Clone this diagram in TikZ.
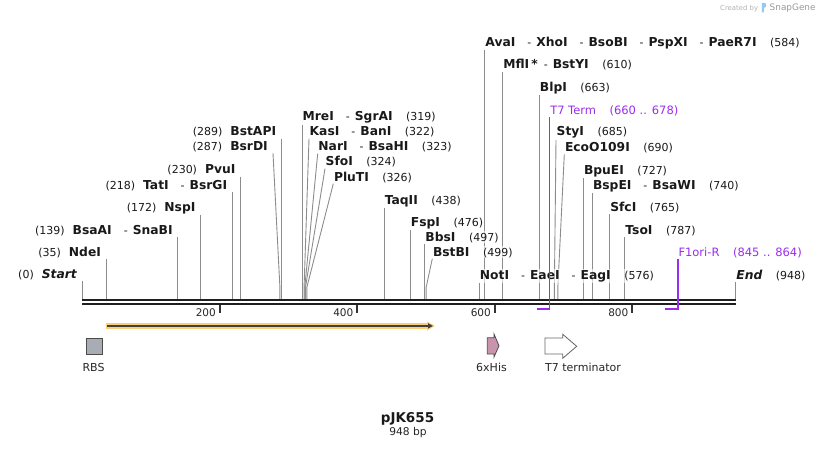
\documentclass[tikz,border=0pt]{standalone}
\usepackage{fontspec}
\setmainfont{DejaVu Sans}
\usetikzlibrary{arrows.meta,backgrounds}
\definecolor{cutgray}{RGB}{140,140,140}
\definecolor{featpurple}{RGB}{155,45,240}
\definecolor{cdsorange}{RGB}{253,205,120}
\definecolor{rbsgray}{RGB}{168,172,180}
\definecolor{hispink}{RGB}{201,147,174}
\definecolor{logoblue}{RGB}{150,200,240}
\newcommand{\enz}[1]{{\fontsize{12.3}{14}\selectfont\bfseries #1}}
\newcommand{\enzdash}{\hspace{12pt}-\hspace{5pt}}
\newcommand{\numgap}{\hspace{13.5pt}}
\newcommand{\lgap}{\hspace{8pt}}

\begin{document}
\begin{tikzpicture}[x=1pt,y=-1pt,
    declare function={px(\p)=82+0.6896*\p;},
    lbl/.style={font=\fontsize{11}{13}\selectfont, text=black!90, fill=white,
        fill opacity=0.6, text opacity=1, inner ysep=1pt},
    enzl/.style={lbl, anchor=base east, inner xsep=5pt},
    enzr/.style={lbl, anchor=base west, inner xsep=0.5pt},
    featl/.style={enzr, font=\fontsize{11.5}{13}\selectfont, text=featpurple},
    cutline/.style={cutgray, line width=0.9pt},
    featline/.style={featpurple, line width=1.5pt},
    seqline/.style={black!88, line width=2pt},
    seqtick/.style={black!80, line width=2pt},
    ticklbl/.style={font=\fontsize{10.5}{12}\selectfont, text=black!85, anchor=base east, inner sep=0pt},
    featlbl/.style={font=\fontsize{11}{13}\selectfont, text=black!85, anchor=base, inner sep=0pt},
    featbox/.style={draw=black!70, line width=0.8pt}]
\useasboundingbox (0,0) rectangle (818,449);

% watermark
\node[font=\fontsize{6.9}{8}\selectfont, text=black!30, anchor=base west, inner sep=0pt] (created) at (720,10.5) {Created by};
\fill[logoblue] (761.8,2.8) -- (764,2.8) .. controls (767,2.8) and (767,7.8) .. (764,7.8)
    -- (763.8,7.8) -- (763.8,12.3) -- (761.8,12.3) -- cycle;
\node[font=\fontsize{8.9}{10}\selectfont, text=black!40, anchor=base west, inner sep=0pt] (snapgene) at (769.5,11) {SnapGene};

% sequence
\draw[seqline] (82,300.3) -- (736,300.3);
\draw[seqline] (82,304.3) -- (736,304.3);
\foreach \t in {200,400,600,800} {
    \draw[seqtick] ({82+0.6875*\t},305) -- ++(0,8);
    \node[ticklbl] (tk\t) at ({82+0.6875*\t-3.5},316.5) {\t};
}
\foreach \s in {0,35,139,172,218,230,287,289,319,322,323,324,326,438,476,497,499,576,584,610,663,685,690,727,740,765,787,948}
    \coordinate (c\s) at ({px(\s)},299.5);

% sites, left side
\node[enzl] (start) at ({px(0)},278.3) {(0)\lgap\enz{\itshape Start}};
\node[enzl] (ndeI) at ({px(35)},256) {(35)\lgap\enz{NdeI}};
\node[enzl] (bsaAI) at ({px(139)},234) {(139)\lgap\enz{BsaAI}\enzdash\enz{SnaBI}};
\node[enzl] (nspI) at ({px(172)},211.7) {(172)\lgap\enz{NspI}};
\node[enzl] (tatI) at ({px(218)},189.3) {(218)\lgap\enz{TatI}\enzdash\enz{BsrGI}};
\node[enzl] (pvuI) at ({px(230)},174) {(230)\lgap\enz{PvuI}};
\node[enzl] (bsrDI) at (273,150.7) {(287)\lgap\enz{BsrDI}};
\node[enzl] (bstAPI) at ({px(289)},136) {(289)\lgap\enz{BstAPI}};

% sites, right side
\node[enzr] (mreI) at ({px(319)},120.7) {\enz{MreI}\enzdash\enz{SgrAI}\numgap(319)};
\node[enzr] (kasI) at (309,136) {\enz{KasI}\enzdash\enz{BanI}\numgap(322)};
\node[enzr] (narI) at (317.7,151) {\enz{NarI}\enzdash\enz{BsaHI}\numgap(323)};
\node[enzr] (sfoI) at (325,166) {\enz{SfoI}\numgap(324)};
\node[enzr] (pluTI) at (333.3,181) {\enz{PluTI}\numgap(326)};
\node[enzr] (taqII) at ({px(438)},204) {\enz{TaqII}\numgap(438)};
\node[enzr] (fspI) at ({px(476)},226.7) {\enz{FspI}\numgap(476)};
\node[enzr] (bbsI) at ({px(497)},241) {\enz{BbsI}\numgap(497)};
\node[enzr] (bstBI) at (432.3,256) {\enz{BstBI}\numgap(499)};
\node[enzr] (notI) at ({px(576)},279) {\enz{NotI}\enzdash\enz{EaeI}\enzdash\enz{EagI}\numgap(576)};
\node[enzr] (avaI) at ({px(584)},46.7) {\enz{AvaI}\enzdash\enz{XhoI}\enzdash\enz{BsoBI}\enzdash\enz{PspXI}\enzdash\enz{PaeR7I}\numgap(584)};
\node[enzr] (mflI) at ({px(610)},69) {\enz{MflI\,*}\hspace{6pt}-\hspace{5pt}\enz{BstYI}\numgap(610)};
\node[enzr] (blpI) at ({px(663)},91.7) {\enz{BlpI}\numgap(663)};
\node[featl] (t7term) at ({px(678)},114.3) {T7 Term\numgap(660 .. 678)};
\node[enzr] (styI) at (556,136) {\enz{StyI}\numgap(685)};
\node[enzr] (ecoO) at (564.3,151.7) {\enz{EcoO109I}\numgap(690)};
\node[enzr] (bpuEI) at ({px(727)},174.3) {\enz{BpuEI}\numgap(727)};
\node[enzr] (bspEI) at ({px(740)},189.3) {\enz{BspEI}\enzdash\enz{BsaWI}\numgap(740)};
\node[enzr] (sfcI) at ({px(765)},211.7) {\enz{SfcI}\numgap(765)};
\node[enzr] (tsoI) at ({px(787)},234.3) {\enz{TsoI}\numgap(787)};
\node[featl] (f1ori) at ({px(864)},256) {F1ori-R\numgap(845 .. 864)};
\node[enzr] (endlbl) at ({px(948)},279) {\enz{\itshape End}\numgap(948)};

\begin{scope}[on background layer]
\draw[cutline] (start.south east) -- (c0);
\draw[cutline] (ndeI.south east) -- (c35);
\draw[cutline] (bsaAI.south east) -- (c139);
\draw[cutline] (nspI.south east) -- (c172);
\draw[cutline] (tatI.south east) -- (c218);
\draw[cutline] (pvuI.south east) -- (c230);
\draw[cutline] (bsrDI.south east) -- ([yshift=12pt]c287) -- (c287);
\draw[cutline] (bstAPI.south east) -- (c289);
\draw[cutline] (mreI.south west) -- (c319);
\draw[cutline] (kasI.south west) -- ([yshift=12pt]c322) -- (c322);
\draw[cutline] (narI.south west) -- ([yshift=12pt]c323) -- (c323);
\draw[cutline] (sfoI.south west) -- ([yshift=12pt]c324) -- (c324);
\draw[cutline] (pluTI.south west) -- ([yshift=12pt]c326) -- (c326);
\draw[cutline] (taqII.south west) -- (c438);
\draw[cutline] (fspI.south west) -- (c476);
\draw[cutline] (bbsI.south west) -- (c497);
\draw[cutline] (bstBI.south west) -- ([yshift=12pt]c499) -- (c499);
\draw[cutline] (notI.south west) -- (c576);
\draw[cutline] (avaI.south west) -- (c584);
\draw[cutline] (mflI.south west) -- (c610);
\draw[cutline] (blpI.south west) -- (c663);
\draw[cutline] (styI.south west) -- ([yshift=12pt]c685) -- (c685);
\draw[cutline] (ecoO.south west) -- ([yshift=12pt]c690) -- (c690);
\draw[cutline] (bpuEI.south west) -- (c727);
\draw[cutline] (bspEI.south west) -- (c740);
\draw[cutline] (sfcI.south west) -- (c765);
\draw[cutline] (tsoI.south west) -- (c787);
\draw[cutline] (endlbl.south west) -- (c948);
\end{scope}

% primer / terminator brackets
\coordinate (t7from) at ({px(660)},309);
\coordinate (f1from) at ({px(845)},309);
\draw[featline] (t7term.south west) |- (t7from);
\draw[featline] (f1ori.south west) |- (f1from);

% features
\fill[cdsorange] ({px(35)},323) -- (427,323) -- (427,321.5) -- ({px(512)},326) -- (427,330.5)
    -- (427,328.8) -- ({px(35)},328.8) -- cycle;
\draw[black!75, line width=1.2pt, -{Triangle[length=5pt,width=5pt]}] ({px(35)+1},325.9) -- (433,325.9);
\draw[featbox, fill=rbsgray] (86.7,338) rectangle (102.7,354);
\node[featlbl] (rbs) at (93.5,371) {RBS};
\draw[featbox, fill=hispink] (487.3,337.7) -- (494,337.7) -- (494,334) -- (499,345.8) -- (494,357)
    -- (494,354) -- (487.3,354) -- cycle;
\node[featlbl] (his) at (491.5,371) {6xHis};
\draw[featbox, draw=black!60, fill=white] (545,338) -- (562.7,338) -- (562.7,334.3) -- (576.7,346.3)
    -- (562.7,358.3) -- (562.7,354) -- (545,354) -- cycle;
\node[featlbl, anchor=base west] (t7lbl) at (545,371) {T7 terminator};

% name and length
\node[font=\fontsize{13.5}{15}\selectfont\bfseries, text=black!90, anchor=base, inner sep=0pt] (title) at (407.5,422.5) {pJK655};
\node[font=\fontsize{10.7}{12}\selectfont, text=black!85, anchor=base, inner sep=0pt] (size) at (408,435.7) {948 bp};
\end{tikzpicture}
\end{document}
